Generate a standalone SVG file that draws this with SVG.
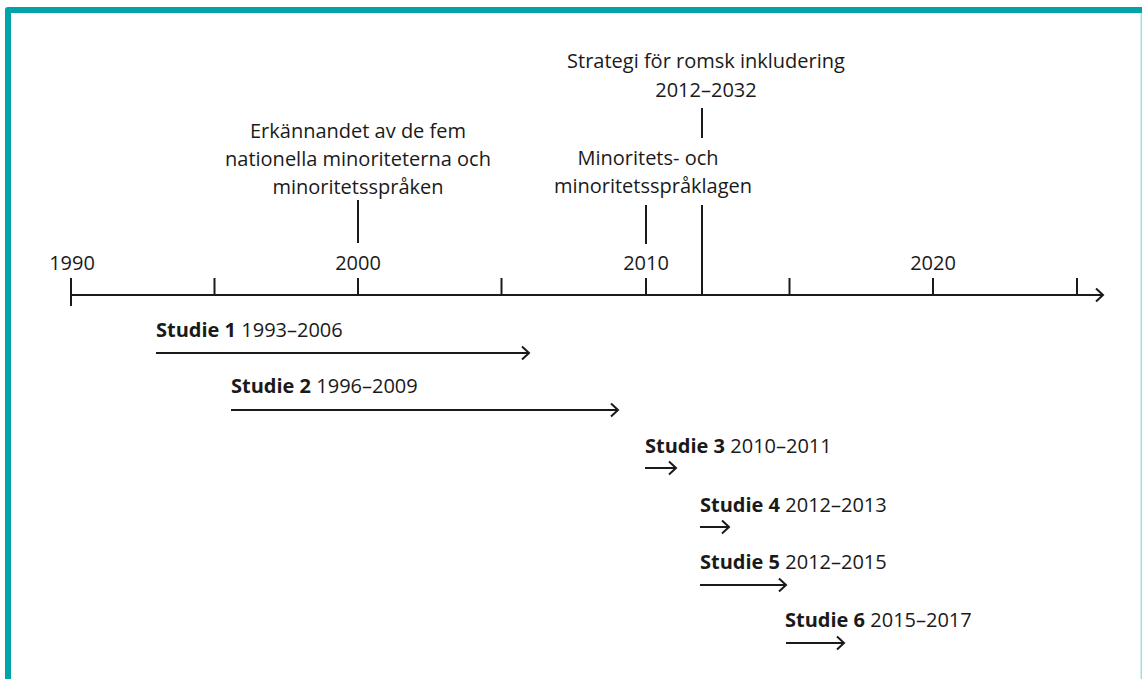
<svg xmlns="http://www.w3.org/2000/svg" width="1142" height="679" viewBox="0 0 1142 679">
<defs>
<style>
text{font-family:"Open Sans","Noto Sans",sans-serif;font-size:20px;fill:#1a1a1a}
.b{font-weight:bold}
.m{text-anchor:middle}
.ln{stroke:#1a1a1a;stroke-width:2;fill:none}
</style>
<marker id="ah" markerUnits="userSpaceOnUse" markerWidth="12" markerHeight="16" viewBox="0 0 12 16" refX="10" refY="8" orient="auto">
<path d="M3,1.5 L10,8 L3,14.5" fill="none" stroke="#1a1a1a" stroke-width="2"/>
</marker>
</defs>
<rect x="0" y="0" width="1142" height="679" fill="#fff"/>
<g id="frame">
<path d="M5,679 L5,10 Q5,7 8,7 L1142,7 L1142,13 L11,13 L11,679 Z" fill="#00A3AA"/>
<rect x="1140.5" y="13" width="1.5" height="666" fill="#9ee0e0"/>
</g>
<g id="connectors">
<line class="ln" x1="71" y1="295" x2="1103" y2="295" marker-end="url(#ah)"/>
<line class="ln" x1="71" y1="278" x2="71" y2="306"/>
<line class="ln" x1="214.5" y1="278" x2="214.5" y2="295"/>
<line class="ln" x1="358" y1="278" x2="358" y2="295"/>
<line class="ln" x1="501.5" y1="278" x2="501.5" y2="295"/>
<line class="ln" x1="646" y1="278" x2="646" y2="295"/>
<line class="ln" x1="702" y1="205" x2="702" y2="295"/>
<line class="ln" x1="789.5" y1="278" x2="789.5" y2="295"/>
<line class="ln" x1="933" y1="278" x2="933" y2="295"/>
<line class="ln" x1="1077" y1="278" x2="1077" y2="295"/>
<line class="ln" x1="358" y1="200" x2="358" y2="243"/>
<line class="ln" x1="646" y1="205" x2="646" y2="244"/>
<line class="ln" x1="702" y1="108" x2="702" y2="138"/>
<line class="ln" x1="156" y1="353" x2="529" y2="353" marker-end="url(#ah)"/>
<line class="ln" x1="231" y1="410" x2="618" y2="410" marker-end="url(#ah)"/>
<line class="ln" x1="645" y1="468" x2="676" y2="468" marker-end="url(#ah)"/>
<line class="ln" x1="700" y1="527" x2="729" y2="527" marker-end="url(#ah)"/>
<line class="ln" x1="700" y1="585" x2="786" y2="585" marker-end="url(#ah)"/>
<line class="ln" x1="786" y1="643" x2="844" y2="643" marker-end="url(#ah)"/>
</g>
<g id="years">
<text class="m" x="72" y="270">1990</text>
<text class="m" x="358" y="270">2000</text>
<text class="m" x="646" y="270">2010</text>
<text class="m" x="933" y="270">2020</text>
</g>
<g id="event-2000">
<text class="m" x="358" y="138">Erkännandet av de fem</text>
<text class="m" x="358" y="166">nationella minoriteterna och</text>
<text class="m" x="358" y="194">minoritetsspråken</text>
</g>
<g id="event-2010">
<text class="m" x="648" y="165">Minoritets- och</text>
<text class="m" x="653" y="193">minoritetsspråklagen</text>
</g>
<g id="event-2012">
<text class="m" x="706" y="68">Strategi för romsk inkludering</text>
<text class="m" x="706" y="97">2012–2032</text>
</g>
<g id="studie1"><text x="156" y="337"><tspan class="b">Studie 1</tspan> 1993–2006</text></g>
<g id="studie2"><text x="231" y="393"><tspan class="b">Studie 2</tspan> 1996–2009</text></g>
<g id="studie3"><text x="645" y="453"><tspan class="b">Studie 3</tspan> 2010–2011</text></g>
<g id="studie4"><text x="700" y="512"><tspan class="b">Studie 4</tspan> 2012–2013</text></g>
<g id="studie5"><text x="700" y="569"><tspan class="b">Studie 5</tspan> 2012–2015</text></g>
<g id="studie6"><text x="785" y="627"><tspan class="b">Studie 6</tspan> 2015–2017</text></g>
</svg>
